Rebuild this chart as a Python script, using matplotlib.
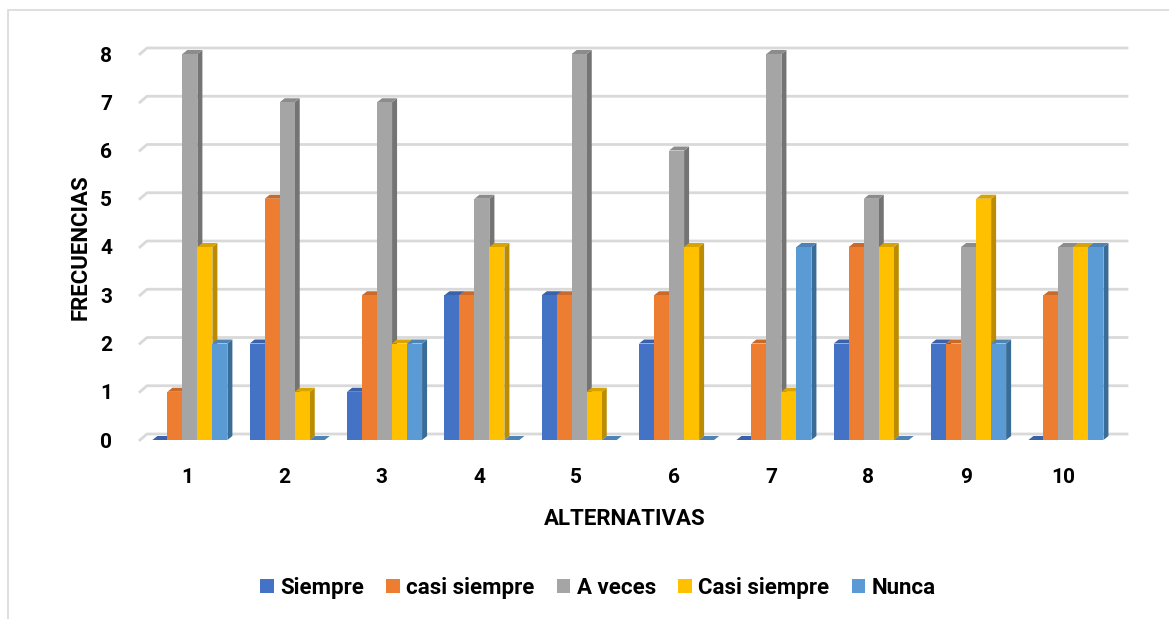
import numpy as np
import matplotlib
matplotlib.use("Agg")
import matplotlib.pyplot as plt
from matplotlib.patches import Rectangle, Polygon, Patch

alternativas = ["1", "2", "3", "4", "5", "6", "7", "8", "9", "10"]
series = ["Siempre", "casi siempre", "A veces", "Casi siempre", "Nunca"]
siempre = [0, 2, 1, 3, 3, 2, 0, 2, 2, 0]
casi_siempre_min = [1, 5, 3, 3, 3, 3, 2, 4, 2, 3]
a_veces = [8, 7, 7, 5, 8, 6, 8, 5, 4, 4]
casi_siempre = [4, 1, 2, 4, 1, 4, 1, 4, 5, 4]
nunca = [2, 0, 2, 0, 0, 0, 4, 0, 2, 4]
y_ticks = [0, 1, 2, 3, 4, 5, 6, 7, 8]

front = ["#4472C4", "#ED7D31", "#A5A5A5", "#FFC000", "#5B9BD5"]
side = ["#2F528F", "#AE5A21", "#747474", "#BC8C00", "#3A6C98"]
top = ["#3A62AA", "#C9692A", "#8C8C8C", "#D9A300", "#4E84B5"]

plt.rcParams["font.family"] = ["Roboto", "DejaVu Sans"]
plt.rcParams["font.weight"] = "bold"

W, H = 1169, 619
fig = plt.figure(figsize=(W / 100, H / 100), dpi=100)
fig.patch.set_facecolor("white")

# outer chart frame
fig.patches.append(Rectangle((8 / W, -0.05), 1.1, 1 - 10 / H + 0.05,
                             transform=fig.transFigure, fill=False,
                             edgecolor="#D9D9D9", lw=1.2))

ax_left, ax_right = 138.3, 1111.7
ax_bot, ax_top = 440, 54
ax = fig.add_axes([ax_left / W, (H - ax_bot) / H,
                   (ax_right - ax_left) / W, (ax_bot - ax_top) / H])
ax.set_xlim(-0.5, 9.5)
ax.set_ylim(0, 8)
for s in ax.spines.values():
    s.set_visible(False)

px_x = 10 / (ax_right - ax_left)   # data units per pixel
px_y = 8 / (ax_bot - ax_top)

# back-wall gridlines with a short diagonal at the left
gx0 = -0.5 + (140 - ax_left) * px_x
gx1 = -0.5 + (147 - ax_left) * px_x
gx2 = -0.5 + (1127 - ax_left) * px_x
for v in y_ticks:
    ax.plot([gx0, gx1, gx2], [v, v + 6 * px_y, v + 6 * px_y],
            color="#D9D9D9", lw=2, zorder=0, clip_on=False)

values = [siempre, casi_siempre_min, a_veces, casi_siempre, nunca]
bw = 15 * px_x
dx, dy = 5 * px_x, 4 * px_y
z = 2
for i in range(len(alternativas)):
    start = i + 0.03 - 2.5 * bw
    for k, vals in enumerate(values):
        v = vals[i]
        x = start + k * bw
        ax.add_patch(Polygon([(x + bw, 0), (x + bw + dx, dy), (x + bw + dx, v + dy), (x + bw, v)],
                             closed=True, facecolor=side[k], edgecolor="none", zorder=z, clip_on=False))
        ax.add_patch(Polygon([(x, v), (x + dx, v + dy), (x + bw + dx, v + dy), (x + bw, v)],
                             closed=True, facecolor=top[k], edgecolor="none", zorder=z, clip_on=False))
        if v > 0:
            ax.add_patch(Rectangle((x, 0), bw, v, facecolor=front[k],
                                   edgecolor="none", zorder=z + 1, clip_on=False))
        z += 2

ax.set_xticks(range(len(alternativas)))
ax.set_xticklabels(alternativas, fontweight="bold")
ax.set_yticks(y_ticks)
ax.set_yticklabels([str(t) for t in y_ticks], fontweight="bold")
ax.tick_params(length=0, labelsize=15)
ax.tick_params(axis="y", pad=19)
ax.tick_params(axis="x", pad=20)

ax.set_xlabel("ALTERNATIVAS", fontsize=16, fontweight="bold", labelpad=15)
ax.set_ylabel("FRECUENCIAS", fontsize=16, fontweight="bold", labelpad=6)

handles = [Patch(facecolor=c, edgecolor="none") for c in front]
fig.legend(handles, series, loc="center", ncol=5, frameon=False,
           bbox_to_anchor=(598 / W, 1 - 588 / H),
           prop={"size": 16, "weight": "bold"},
           handlelength=0.6, handleheight=0.6, handletextpad=0.3,
           columnspacing=1.0)

fig.savefig("out.png", dpi=100, facecolor="white")
